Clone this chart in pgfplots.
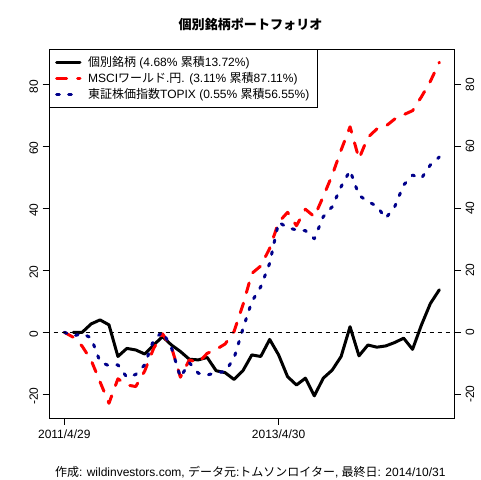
\documentclass[border=0pt]{standalone}
\usepackage{pgfplots}
\pgfplotsset{compat=1.18}
\usepackage{fontspec}
\setmainfont{Liberation Sans}
\newfontfamily\jp{Noto Sans CJK JP}
\definecolor{dblue}{RGB}{0,0,139}
\begin{document}
\begin{tikzpicture}
\path[use as bounding box] (0,0) rectangle (360pt,360pt);
\pgfplotsset{common/.style={at={(37pt,46.5pt)}, anchor=south west, scale only axis,
  width=303.75pt, height=276.5pt, xmin=-1.68, xmax=43.68, ymin=-27.65, ymax=91.29,
  ytick={-20,0,20,40,60,80}, yticklabels={-20,0,20,40,60,80},
  tick align=outside, major tick length=5pt,
  every tick/.style={black, line width=0.75pt},
  tick label style={font=\fontsize{9}{10}\selectfont},
  axis line style={line width=0.75pt}}}
\begin{axis}[common,
  xtick={0,24}, xticklabels={2011/4/29,2013/4/30}, xtick pos=bottom, ytick pos=left,
  yticklabel style={rotate=90, anchor=south, xshift=-1.5pt},
  legend style={at={(0,1)}, anchor=north west, draw=black, line width=0.75pt, fill=white,
    font=\fontsize{9}{10.75}\selectfont, inner xsep=4pt, inner ysep=3pt, row sep=-1pt,
    /tikz/every odd column/.append style={column sep=3pt}},
  legend cell align=left,
  legend image code/.code={\draw[#1] (0pt,0pt) -- (17.5pt,0pt);}]
\addplot[black, line width=2.25pt, line join=round, line cap=round] coordinates {
(1,0) (2,0) (3,2.7) (4,4.0) (5,2.4) (6,-7.8) (7,-5.2) (8,-5.7) (9,-7.0) (10,-4.1)
(11,-1.4) (12,-4.1) (13,-6.2) (14,-8.7) (15,-8.9) (16,-8.1) (17,-12.4) (18,-13.0) (19,-15.2) (20,-12.4)
(21,-7.3) (22,-7.8) (23,-2.3) (24,-7.3) (25,-14.3) (26,-17.0) (27,-14.8) (28,-20.5) (29,-14.8) (30,-12.2)
(31,-7.8) (32,1.8) (33,-7.6) (34,-4.1) (35,-4.8) (36,-4.4) (37,-3.3) (38,-1.9) (39,-5.5) (40,2.4)
(41,9.3) (42,13.72)};
\addlegendentry{{\jp 個別銘柄} (4.68\% {\jp 累積}13.72\%)}
\addplot[red, line width=2.25pt, line join=round, line cap=round, dash pattern=on 7.5pt off 8.25pt] coordinates {
(0,0) (1,-1.6) (2,-4.5) (3,-9.0) (4,-16.0) (5,-22.9) (6,-15.0) (7,-17.0) (8,-17.5) (9,-12.5) (10,-5.2)
(11,-0.5) (12,-4.8) (13,-14.5) (14,-8.9) (15,-9.8) (16,-6.8) (17,-5.5) (18,-3.8) (19,0.2) (20,8.8)
(21,19.0) (22,21.4) (23,27.1) (24,35.5) (25,38.7) (26,34.4) (27,39.7) (28,37.3) (29,43.8) (30,50.7)
(31,58.8) (32,66.3) (33,56.0) (34,62.9) (35,65.6) (36,66.5) (37,68.8) (38,70.2) (39,71.5) (40,76.0)
(41,81.0) (42,87.11)};
\addlegendentry{MSCI{\jp ワールド}.{\jp 円}. (3.11\% {\jp 累積}87.11\%)}
\addplot[dblue, line width=2.25pt, line join=round, line cap=round, dash pattern=on 2pt off 7pt] coordinates {
(0,0) (1,-1.2) (2,-0.4) (3,-1.8) (4,-9.5) (5,-10.8) (6,-10.5) (7,-14.5) (8,-13.6) (9,-10.5) (10,-2.5)
(11,0.2) (12,-5.0) (13,-14.5) (14,-9.8) (15,-13.2) (16,-13.8) (17,-13.0) (18,-12.7) (19,-8.4) (20,1.1)
(21,9.9) (22,14.7) (23,22.3) (24,35.5) (25,33.8) (26,33.0) (27,32.8) (28,30.2) (29,37.3) (30,40.5)
(31,47.0) (32,52.2) (33,44.2) (34,42.2) (35,40.7) (36,36.8) (37,40.5) (38,47.5) (39,50.7) (40,49.7)
(41,54.0) (42,56.55)};
\addlegendentry{{\jp 東証株価指数}TOPIX (0.55\% {\jp 累積}56.55\%)}
\addplot[black, line width=0.75pt, dash pattern=on 3pt off 3pt, forget plot] coordinates {(-3,0) (45,0)};
\end{axis}
\begin{axis}[common, axis x line=none, axis y line*=right, axis line style={draw=none},
  yticklabel style={rotate=90, anchor=north}]
\addplot[draw=none] coordinates {(0,0)};
\end{axis}
\node[font=\jp\bfseries\fontsize{9.8}{11}\selectfont] at (187.9pt,341.5pt) {個別銘柄ポートフォリオ};
\node[font=\fontsize{9}{10}\selectfont] at (187.7pt,6pt) {{\jp 作成}: wildinvestors.com, {\jp データ元}:{\jp トムソンロイター}, {\jp 最終日}: 2014/10/31};
\end{tikzpicture}
\end{document}
